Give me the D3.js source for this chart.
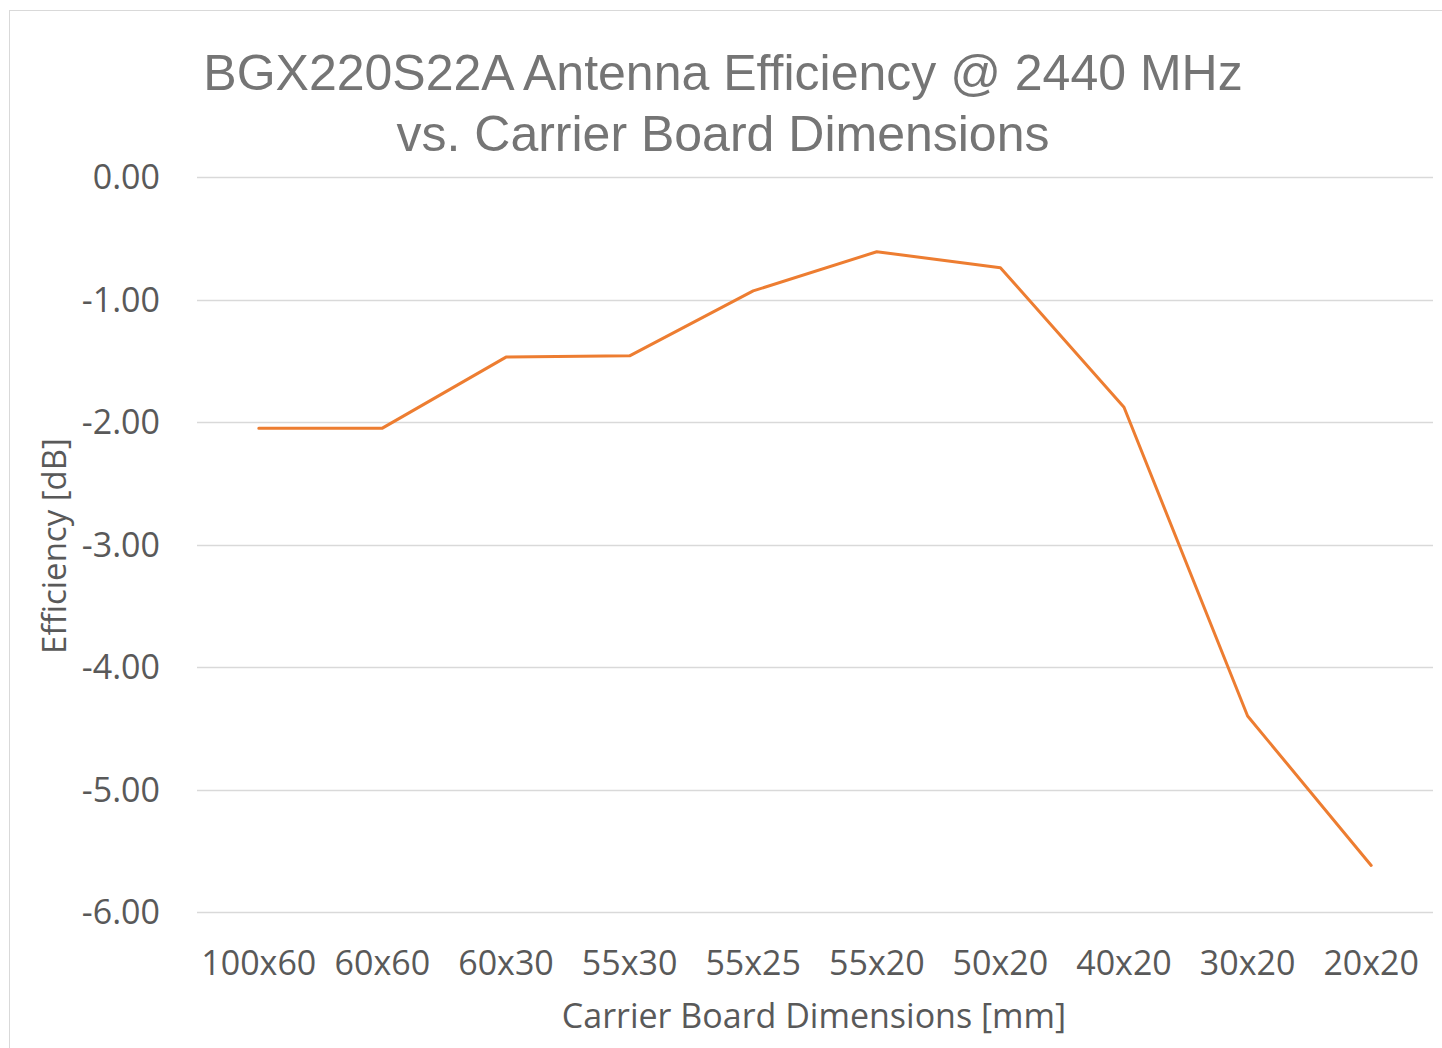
<!DOCTYPE html>
<html>
<head>
<meta charset="utf-8" />
<title>BGX220S22A Antenna Efficiency</title>
<script src="https://d3js.org/d3.v7.min.js"></script>
<style>
  body { margin: 0; background: #fff; }
  svg { display: block; }
</style>
</head>
<body>
<div id="chart"></div>
<script>
// board sizes (mm) and measured efficiency (dB)
var categories = ["100x60", "60x60", "60x30", "55x30", "55x25", "55x20", "50x20", "40x20", "30x20", "20x20"];
var efficiency = [-2.05, -2.05, -1.47, -1.46, -0.93, -0.61, -0.74, -1.88, -4.40, -5.62];
var yTicks = [0, -1, -2, -3, -4, -5, -6];

var width = 1442, height = 1048;
var margin = {left: 197, right: 9, top: 177, bottom: 136};

var svg = d3.select("#chart").append("svg")
  .attr("width", width)
  .attr("height", height);

// chart frame
svg.append("rect")
  .attr("x", 9.5).attr("y", 10.5)
  .attr("width", width - 9).attr("height", height)
  .attr("fill", "#fff")
  .attr("stroke", "#d9d9d9");

var x = d3.scaleBand()
  .domain(categories)
  .range([margin.left, width - margin.right]);

var y = d3.scaleLinear()
  .domain([-6, 0])
  .range([height - margin.bottom, margin.top]);

// gridlines
svg.append("g")
  .selectAll("line")
  .data(yTicks)
  .join("line")
  .attr("x1", margin.left)
  .attr("x2", width - margin.right)
  .attr("y1", function(d){ return Math.round(y(d)) + 0.5; })
  .attr("y2", function(d){ return Math.round(y(d)) + 0.5; })
  .attr("stroke", "#d9d9d9")
  .attr("stroke-width", 1.3);

// y axis labels (plain hyphen, like the original)
var fmt = d3.format(".2f");
var yAxis = d3.axisLeft(y).tickValues(yTicks)
  .tickFormat(function(d){ return fmt(d).replace("\u2212", "-"); })
  .tickSize(0).tickPadding(0);
var gy = svg.append("g")
  .attr("transform", "translate(160,0)")
  .call(yAxis);
gy.select(".domain").remove();
gy.selectAll("text")
  .attr("font-family", "'Open Sans', sans-serif")
  .attr("font-size", 34)
  .attr("fill", "#595959")
  .attr("dy", "0.35em");

// x axis labels
var xAxis = d3.axisBottom(x).tickSize(0).tickPadding(0);
var gx = svg.append("g")
  .attr("transform", "translate(0,975)")
  .call(xAxis);
gx.select(".domain").remove();
gx.selectAll("text")
  .attr("font-family", "'Open Sans', sans-serif")
  .attr("font-size", 34)
  .attr("fill", "#595959")
  .attr("dy", 0);

// line
var line = d3.line()
  .x(function(d, i){ return x(categories[i]) + x.bandwidth() / 2; })
  .y(function(d){ return y(d); });

svg.append("path")
  .datum(efficiency)
  .attr("d", line)
  .attr("fill", "none")
  .attr("stroke", "#ED7D31")
  .attr("stroke-width", 3)
  .attr("stroke-linejoin", "round")
  .attr("stroke-linecap", "round");

// title
var title = svg.append("text")
  .attr("text-anchor", "middle")
  .attr("font-family", "'Liberation Sans', Arial, sans-serif")
  .attr("font-size", 50)
  .attr("fill", "#757575");
title.append("tspan").attr("x", 723).attr("y", 90).text("BGX220S22A Antenna Efficiency @ 2440 MHz");
title.append("tspan").attr("x", 723).attr("y", 151).text("vs. Carrier Board Dimensions");

// axis titles
svg.append("text")
  .attr("x", 814).attr("y", 1028)
  .attr("text-anchor", "middle")
  .attr("font-family", "'Open Sans', sans-serif")
  .attr("font-size", 34)
  .attr("fill", "#595959")
  .text("Carrier Board Dimensions [mm]");

svg.append("text")
  .attr("transform", "translate(66,546) rotate(-90)")
  .attr("text-anchor", "middle")
  .attr("font-family", "'Open Sans', sans-serif")
  .attr("font-size", 33)
  .attr("fill", "#595959")
  .text("Efficiency [dB]");
</script>
</body>
</html>
